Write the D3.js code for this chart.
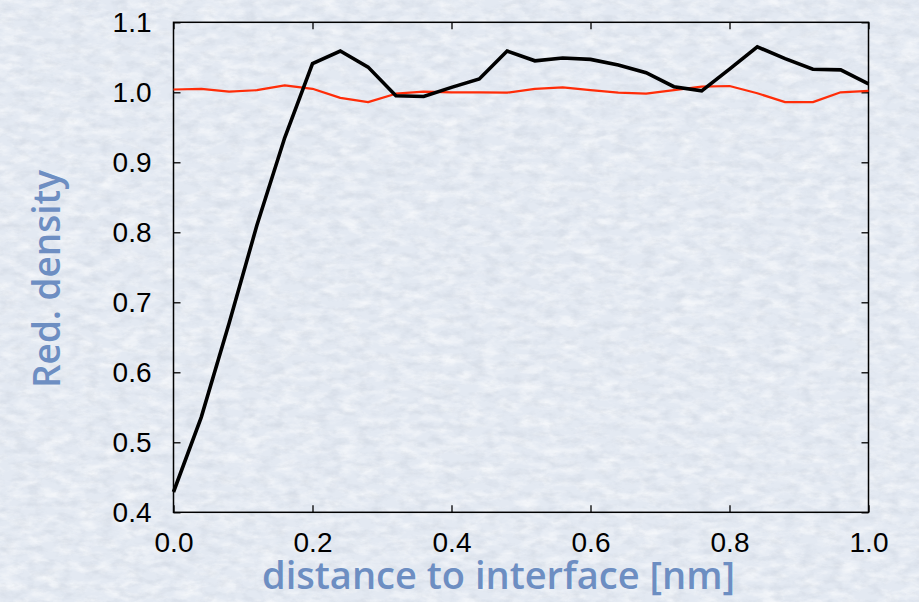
<!DOCTYPE html>
<html>
<head>
<meta charset="utf-8">
<script src="https://cdn.jsdelivr.net/npm/d3@7"></script>
<style>
  html, body { margin: 0; padding: 0; background: #e4eaf3; }
  svg { display: block; }
</style>
</head>
<body>
<svg id="chart" width="919" height="602"></svg>
<script>
// Distance from the interface (nm), sampled every 0.04 nm
const distance = [0.00, 0.04, 0.08, 0.12, 0.16, 0.20, 0.24, 0.28, 0.32, 0.36, 0.40, 0.44, 0.48,
                  0.52, 0.56, 0.60, 0.64, 0.68, 0.72, 0.76, 0.80, 0.84, 0.88, 0.92, 0.96, 1.00];
// Reduced density profiles
const densityBlack = [0.429, 0.536, 0.670, 0.810, 0.935, 1.041, 1.059, 1.036, 0.995, 0.994, 1.007, 1.019, 1.059,
                      1.045, 1.049, 1.047, 1.039, 1.028, 1.008, 1.002, 1.033, 1.065, 1.048, 1.033, 1.032, 1.012];
const densityRed   = [1.004, 1.005, 1.001, 1.003, 1.010, 1.005, 0.992, 0.986, 0.998, 1.001, 1.000, 1.000, 0.9995,
                      1.005, 1.007, 1.003, 0.9995, 0.998, 1.003, 1.008, 1.009, 0.9986, 0.986, 0.986, 1.000, 1.002];
// Tick values and labels
const xTicks = [0.0, 0.2, 0.4, 0.6, 0.8, 1.0];
const yTicks = [0.4, 0.5, 0.6, 0.7, 0.8, 0.9, 1.0, 1.1];
const xTitle = "distance to interface [nm]";
const yTitle = "Red. density";

const svg = d3.select("#chart");
const W = 919, H = 602;
const plotL = 173.5, plotR = 868.5, plotT = 22.3, plotB = 512.3;

// Paper-like background: light and dark fibrous specks over a pale blue-grey
const defs = svg.append("defs");
const light = defs.append("filter").attr("id", "paperLight")
  .attr("x", 0).attr("y", 0).attr("width", "100%").attr("height", "100%");
light.append("feTurbulence").attr("type", "fractalNoise")
  .attr("baseFrequency", "0.05 0.11").attr("numOctaves", 4).attr("seed", 7);
light.append("feColorMatrix").attr("type", "matrix")
  .attr("values", "0 0 0 0 1  0 0 0 0 1  0 0 0 0 1  2.2 0 0 0 -0.9");
const dark = defs.append("filter").attr("id", "paperDark")
  .attr("x", 0).attr("y", 0).attr("width", "100%").attr("height", "100%");
dark.append("feTurbulence").attr("type", "fractalNoise")
  .attr("baseFrequency", "0.07 0.13").attr("numOctaves", 4).attr("seed", 23);
dark.append("feColorMatrix").attr("type", "matrix")
  .attr("values", "0 0 0 0 0.55  0 0 0 0 0.6  0 0 0 0 0.68  2.4 0 0 0 -1.05");
svg.append("rect").attr("width", W).attr("height", H).attr("fill", "#e3e9f2");
svg.append("rect").attr("width", W).attr("height", H).attr("filter", "url(#paperLight)").attr("opacity", 0.6);
svg.append("rect").attr("width", W).attr("height", H).attr("filter", "url(#paperDark)").attr("opacity", 0.35);

const x = d3.scaleLinear().domain([0, 1]).range([plotL, plotR]);
const y = d3.scaleLinear().domain([0.4, 1.1]).range([plotB, plotT]);

const tickFont = "'Liberation Sans', Arial, Helvetica, sans-serif";
const fmt = d3.format(".1f");

function styleAxis(g, showLabels) {
  g.select(".domain").remove();
  g.selectAll(".tick line").attr("stroke", "#000").attr("stroke-width", 1.3);
  g.selectAll(".tick text")
    .attr("fill", "#000")
    .style("font-family", tickFont)
    .style("font-size", "28px");
  if (!showLabels) g.selectAll(".tick text").remove();
}

svg.append("g").attr("transform", `translate(0,${plotB})`)
  .call(d3.axisBottom(x).tickValues(xTicks).tickFormat(fmt).tickSize(-7).tickPadding(20))
  .call(g => styleAxis(g, true));
svg.append("g").attr("transform", `translate(0,${plotT})`)
  .call(d3.axisTop(x).tickValues(xTicks).tickSize(-7))
  .call(g => styleAxis(g, false));
svg.append("g").attr("transform", `translate(${plotL},0)`)
  .call(d3.axisLeft(y).tickValues(yTicks).tickFormat(fmt).tickSize(-7).tickPadding(22))
  .call(g => styleAxis(g, true));
svg.append("g").attr("transform", `translate(${plotR},0)`)
  .call(d3.axisRight(y).tickValues(yTicks).tickSize(-7))
  .call(g => styleAxis(g, false));

// Plot frame
svg.append("rect")
  .attr("x", plotL).attr("y", plotT)
  .attr("width", plotR - plotL).attr("height", plotB - plotT)
  .attr("fill", "none").attr("stroke", "#000").attr("stroke-width", 1.5);

const line = d3.line().x((d, i) => x(distance[i])).y(d => y(d));

svg.append("path").datum(densityRed)
  .attr("d", line).attr("fill", "none")
  .attr("stroke", "#ff2c08").attr("stroke-width", 2.2).attr("stroke-linejoin", "round");
svg.append("path").datum(densityBlack)
  .attr("d", line).attr("fill", "none")
  .attr("stroke", "#000").attr("stroke-width", 3.6).attr("stroke-linejoin", "miter");

// Axis titles
const titleColor = "#6d8ec2";
const titleFont = "'Open Sans', 'Noto Sans', sans-serif";
svg.append("text")
  .attr("x", 262).attr("y", 589)
  .attr("textLength", 473).attr("lengthAdjust", "spacingAndGlyphs")
  .attr("fill", titleColor)
  .style("font-family", titleFont).style("font-weight", 600).style("font-size", "37px")
  .text(xTitle);
svg.append("text")
  .attr("transform", "translate(60,388) rotate(-90)")
  .attr("x", 0).attr("y", 0)
  .attr("textLength", 218).attr("lengthAdjust", "spacingAndGlyphs")
  .attr("fill", titleColor)
  .style("font-family", titleFont).style("font-weight", 600).style("font-size", "37px")
  .text(yTitle);
</script>
</body>
</html>
